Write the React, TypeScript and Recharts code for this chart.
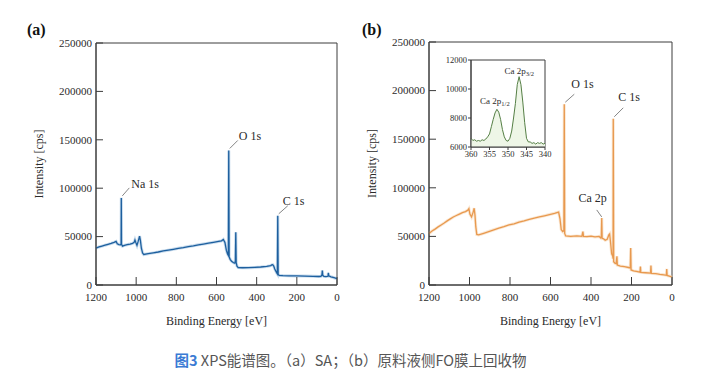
import { Area, AreaChart, Line, LineChart, ReferenceArea, ReferenceDot, XAxis, YAxis } from "recharts"

const SERIF = "'Liberation Serif', 'Times New Roman', serif"
const AXIS = "#3c3c3c"
const TEXT = "#2a2a2a"

// survey ticks
const BE_TICKS = [1200, 1000, 800, 600, 400, 200, 0]
const CPS_TICKS = [0, 50000, 100000, 150000, 200000, 250000]

// (a) SA survey spectrum, binding energy (eV) vs counts
const ENERGY_A = [
  1200, 1185, 1170, 1155, 1140, 1125, 1110, 1100, 1094, 1086, 1078, 1075, 1074, 1073, 1068, 1058, 1045, 1030,
  1018, 1010, 1006, 1001, 996, 990, 983, 979, 974, 968, 962, 940, 915, 890, 865, 840, 815, 790, 765, 740, 715,
  690, 665, 640, 615, 590, 575, 566, 558, 551, 545, 541, 539, 537, 532, 525, 515, 509, 506, 504, 502, 498, 492,
  470, 440, 410, 380, 350, 330, 325, 320, 315, 310, 300, 297, 295, 293, 288, 270, 240, 200, 160, 120, 90, 80, 75,
  73, 71, 65, 55, 45, 43, 41, 30, 15, 0,
]
const COUNTS_A = [
  38000, 39300, 40200, 41100, 42000, 42900, 44000, 45000, 42600, 41800, 41500, 42500, 90000, 42000, 40200, 41000,
  41600, 42300, 43000, 44000, 46500, 43500, 41000, 45000, 50500, 46000, 38000, 33000, 31500, 32300, 33200, 34100,
  35200, 36000, 36900, 37900, 38700, 39700, 40500, 41500, 42300, 43200, 44100, 45000, 45600, 47000, 44000, 36000,
  32000, 30500, 139000, 29000, 26500, 24500, 23000, 22500, 25000, 54500, 23000, 19500, 18000, 17800, 17900, 18200,
  18600, 19200, 20000, 20700, 21000, 19500, 16500, 12500, 11500, 71500, 11000, 10000, 9700, 9500, 9400, 9200, 9000,
  8800, 9000, 10500, 15000, 10000, 8900, 8700, 9000, 12500, 9500, 8500, 7500, 6500,
]

// (b) recovered material survey spectrum
const ENERGY_B = [
  1200, 1185, 1170, 1155, 1140, 1125, 1110, 1095, 1080, 1065, 1050, 1035, 1020, 1008, 1003, 998, 990, 982, 977,
  973, 969, 964, 955, 930, 905, 880, 855, 830, 805, 780, 755, 730, 705, 680, 655, 630, 605, 580, 560, 553, 547,
  540, 534, 532, 530, 525, 500, 470, 445, 440, 437, 420, 400, 380, 360, 352, 349, 347, 345, 338, 330, 320, 312,
  308, 304, 298, 293, 291, 290, 288, 282, 276, 272, 270, 255, 235, 215, 206, 204, 202, 190, 170, 158, 156, 154,
  130, 106, 104, 102, 80, 60, 40, 28, 26, 24, 10, 0,
]
const COUNTS_B = [
  53000, 55500, 57500, 59800, 61800, 63800, 66000, 68000, 70000, 71500, 73000, 74500, 75500, 77000, 78500, 73000,
  70000, 75000, 79000, 72000, 60000, 52000, 51500, 53200, 55000, 56800, 58500, 60000, 61800, 63000, 64800, 66000,
  67500, 68800, 70000, 71200, 72500, 73800, 75000, 68000, 57000, 55000, 56000, 186000, 53000, 50500, 50000, 50500,
  50000, 55000, 50000, 49800, 50200, 49500, 50000, 48500, 50000, 69000, 48000, 47500, 46000, 47000, 51500, 52500,
  45000, 32000, 30000, 27000, 171000, 24000, 22500, 22000, 29500, 20500, 19500, 18800, 18000, 17500, 38000, 15500,
  14500, 13800, 13200, 19000, 13000, 12600, 12300, 20000, 12000, 11600, 11000, 10500, 10000, 16500, 9800, 9000, 8000,
]

// inset: Ca 2p high-resolution
const ENERGY_CA = [
  360, 359.5, 359, 358.5, 358, 357.5, 357, 356.5, 356, 355.5, 355, 354.5, 354, 353.5, 353, 352.5, 352, 351.5, 351,
  350.5, 350, 349.5, 349, 348.5, 348, 347.5, 347, 346.5, 346, 345.5, 345, 344.5, 344, 343.5, 343, 342.5, 342, 341.5,
  341, 340.5, 340,
]
const COUNTS_CA = [
  6600, 6450, 6500, 6400, 6450, 6400, 6500, 6450, 6550, 6700, 6900, 7400, 7900, 8350, 8600, 8400, 7900, 7200, 6700,
  6450, 6400, 6600, 7100, 8000, 9000, 10300, 10850, 10300, 9100, 7700, 6600, 6350, 6350, 6250, 6300, 6200, 6300,
  6250, 6300, 6200, 6250,
]
const CA_TICKS_X = [360, 355, 350, 345, 340]
const CA_TICKS_Y = [6000, 8000, 10000, 12000]

const dataA = ENERGY_A.map((be, i) => ({ be, cps: COUNTS_A[i] }))
const dataB = ENERGY_B.map((be, i) => ({ be, cps: COUNTS_B[i] }))
const dataCa = ENERGY_CA.map((be, i) => ({ be, cps: COUNTS_CA[i] }))

// plain svg text so the serif face is really used
const bottomTick = (size: number) => (p: any) => (
  <text x={p.x} y={p.y} dy="0.71em" textAnchor="middle" fill={TEXT} fontFamily={SERIF} fontSize={size}>
    {p.payload.value}
  </text>
)
const leftTick = (size: number) => (p: any) => (
  <text x={p.x} y={p.y} dy="0.35em" textAnchor="end" fill={TEXT} fontFamily={SERIF} fontSize={size}>
    {p.payload.value}
  </text>
)

function Tag({ cx, cy, label, lx, ly, tx, ty, anchor = "start", sub }: any) {
  return (
    <g>
      {lx !== undefined && (
        <line x1={cx + 1} y1={cy - 2} x2={cx + lx} y2={cy + ly} stroke="#666" strokeWidth={0.8} />
      )}
      <text x={cx + tx} y={cy + ty} textAnchor={anchor} fill={TEXT} fontFamily={SERIF} fontSize={sub ? 9 : 12}>
        {label}
        {sub && (
          <tspan fontSize={6.5} dy={2}>
            {sub}
          </tspan>
        )}
      </text>
    </g>
  )
}

const yTitle = ({ viewBox }: any) => {
  const vb = viewBox || {}
  const x = (vb.x ?? 0) + (vb.width ?? 0) - 57
  const y = (vb.y ?? 0) + (vb.height ?? 0) / 2
  return (
    <text
      x={x}
      y={y}
      transform={`rotate(-90 ${x} ${y})`}
      textAnchor="middle"
      dominantBaseline="central"
      fill={TEXT}
      fontFamily={SERIF}
      fontSize={12}
    >
      Intensity [cps]
    </text>
  )
}

const xTitle = ({ viewBox }: any) => {
  const vb = viewBox || {}
  const x = (vb.x ?? 0) + (vb.width ?? 0) / 2
  const y = (vb.y ?? 0) + (vb.height ?? 0) - 2
  return (
    <text x={x} y={y} textAnchor="middle" fill={TEXT} fontFamily={SERIF} fontSize={12}>
      Binding Energy [eV]
    </text>
  )
}

function Survey({ data, color, halo, yWidth, width, top, right, children }: any) {
  return (
    <LineChart width={width} height={340} data={data} margin={{ top, right, left: 0, bottom: 13 }}>
      <XAxis
        dataKey="be"
        type="number"
        domain={[0, 1200]}
        reversed
        ticks={BE_TICKS}
        interval={0}
        tickSize={-8}
        tickMargin={16}
        height={42}
        stroke={AXIS}
        tick={bottomTick(11)}
        label={{ content: xTitle }}
      />
      <YAxis
        type="number"
        domain={[0, 250000]}
        ticks={CPS_TICKS}
        interval={0}
        tickSize={-7}
        tickMargin={11}
        width={yWidth}
        stroke={AXIS}
        tick={leftTick(11)}
        label={{ content: yTitle }}
      />
      <ReferenceArea x1={1200} x2={0} y1={0} y2={250000} fill="none" fillOpacity={0} stroke={AXIS} strokeWidth={1} />
      <Line type="linear" dataKey="cps" stroke={halo} strokeWidth={3} strokeOpacity={0.5} dot={false} isAnimationActive={false} />
      <Line type="linear" dataKey="cps" stroke={color} strokeWidth={1.3} dot={false} isAnimationActive={false} />
      {children}
    </LineChart>
  )
}

export default function App() {
  return (
    <div
      style={{
        position: "absolute",
        left: 0,
        top: 0,
        width: 701,
        height: 392,
        background: "#fff",
        overflow: "hidden",
        fontFamily: SERIF,
      }}
    >
      <div style={{ position: "absolute", left: 27, top: 21, font: `bold 16px ${SERIF}`, color: "#111" }}>(a)</div>
      <div style={{ position: "absolute", left: 362, top: 21, font: `bold 16px ${SERIF}`, color: "#111" }}>(b)</div>

      <div style={{ position: "absolute", left: 0, top: 0 }}>
        <Survey data={dataA} color="#1d5f9e" halo="#8fb8dc" yWidth={96} width={350} top={43} right={13}>
          <ReferenceDot x={1074} y={90000} r={0} shape={(p: any) => <Tag {...p} label="Na 1s" lx={8} ly={-10} tx={10} ty={-10} />} />
          <ReferenceDot x={539} y={139000} r={0} shape={(p: any) => <Tag {...p} label="O 1s" lx={9} ly={-10} tx={10} ty={-10} />} />
          <ReferenceDot x={295} y={71500} r={0} shape={(p: any) => <Tag {...p} label="C 1s" lx={10} ly={-10} tx={5} ty={-11} />} />
        </Survey>
      </div>

      <div style={{ position: "absolute", left: 350, top: 0 }}>
        <Survey data={dataB} color="#e8994f" halo="#f6cfa6" yWidth={79} width={351} top={42} right={29}>
          <ReferenceDot x={532} y={186000} r={0} shape={(p: any) => <Tag {...p} label="O 1s" lx={10} ly={-10} tx={7} ty={-16} />} />
          <ReferenceDot x={290} y={171000} r={0} shape={(p: any) => <Tag {...p} label="C 1s" lx={10} ly={-11} tx={5} ty={-18} />} />
          <ReferenceDot x={347} y={69000} r={0} shape={(p: any) => <Tag {...p} label="Ca 2p" tx={5} ty={-16} anchor="end" />} />
          <ReferenceDot x={347} y={69000} r={0} shape={(p: any) => <line x1={p.cx} y1={p.cy - 1} x2={p.cx - 5} y2={p.cy - 8} stroke="#666" strokeWidth={0.8} />} />
        </Survey>
      </div>

      <div style={{ position: "absolute", left: 430, top: 52 }}>
        <AreaChart width={125} height={112} data={dataCa} margin={{ top: 8, right: 10, left: 0, bottom: 0 }}>
          <ReferenceArea x1={360} x2={340} y1={6000} y2={12000} fill="#fff" fillOpacity={1} stroke={AXIS} strokeWidth={1} />
          <XAxis
            dataKey="be"
            type="number"
            domain={[340, 360]}
            reversed
            ticks={CA_TICKS_X}
            interval={0}
            tickSize={3}
            tickMargin={1}
            height={17}
            stroke={AXIS}
            tick={bottomTick(8.5)}
          />
          <YAxis
            type="number"
            domain={[6000, 12000]}
            ticks={CA_TICKS_Y}
            interval={0}
            tickSize={3}
            tickMargin={1}
            width={41}
            stroke={AXIS}
            tick={leftTick(8.5)}
          />
          <Area
            type="linear"
            dataKey="cps"
            stroke="#557f45"
            strokeWidth={1}
            fill="#eef6e7"
            fillOpacity={1}
            baseValue={6000}
            dot={false}
            isAnimationActive={false}
          />
          <ReferenceDot x={353} y={8600} r={0} shape={(p: any) => <Tag {...p} label="Ca 2p" sub="1/2" tx={-2} ty={-5} anchor="middle" />} />
          <ReferenceDot x={347.5} y={10850} r={0} shape={(p: any) => <Tag {...p} label="Ca 2p" sub="3/2" tx={2} ty={-3} anchor="middle" />} />
        </AreaChart>
      </div>

      <div
        style={{
          position: "absolute",
          left: 0,
          top: 349,
          width: 701,
          textAlign: "center",
          fontFamily: "'Noto Sans CJK SC', 'Noto Sans', sans-serif",
          fontSize: 14.5,
          color: "#555",
        }}
      >
        <span style={{ color: "#3b7bd4", fontWeight: "bold" }}>图3</span> XPS能谱图。（a）SA；（b）原料液侧FO膜上回收物
      </div>
    </div>
  )
}
